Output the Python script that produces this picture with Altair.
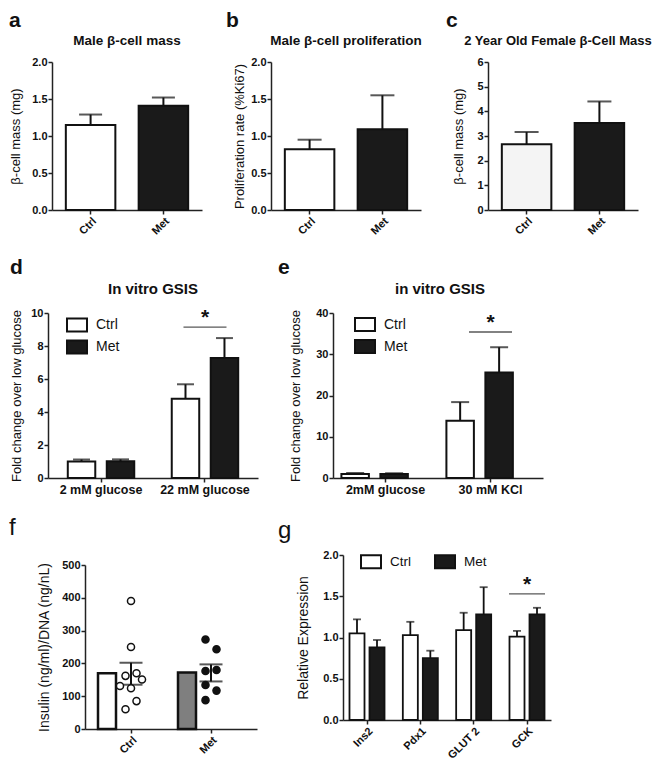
import altair as alt
import pandas as pd

FONT = "Liberation Sans"
INK = "#111111"
DARK = "#1a1a1a"
RECT = "M-1,-0.65H1V0.65H-1Z"

# ---------------- data ----------------
abc_groups = ["Ctrl", "Met"]
a_mean = [1.15, 1.41]
a_upper = [1.29, 1.52]
b_mean = [0.82, 1.09]
b_upper = [0.95, 1.55]
c_mean = [2.67, 3.53]
c_upper = [3.16, 4.40]

series = ["Ctrl", "Met"]
d_conds = ["2 mM glucose", "22 mM glucose"]
d_ctrl_mean = [1.00, 4.80]
d_ctrl_upper = [1.12, 5.68]
d_met_mean = [1.02, 7.28]
d_met_upper = [1.13, 8.48]
d_sig_cond = ["22 mM glucose"]
d_sig_y = [9.15]

e_conds = ["2mM glucose", "30 mM KCl"]
e_ctrl_mean = [1.00, 13.9]
e_ctrl_upper = [1.20, 18.4]
e_met_mean = [0.95, 25.6]
e_met_upper = [1.15, 31.7]
e_sig_cond = ["30 mM KCl"]
e_sig_y = [35.4]

f_groups = ["Ctrl", "Met"]
f_mean = [170, 172]
f_sem_low = [135, 145]
f_sem_high = [202, 197]
f_ctrl_points = [390, 250, 162, 170, 151, 131, 124, 85, 60]
f_ctrl_column = [0, 0, -1, 1, 2, -2, 0, 1, -1]
f_met_points = [273, 243, 177, 180, 134, 117, 88]
f_met_column = [-1, 1, -1, 1, -1, 1, -1]

g_genes = ["Ins2", "Pdx1", "GLUT 2", "GCK"]
g_ctrl_mean = [1.05, 1.03, 1.09, 1.01]
g_ctrl_upper = [1.22, 1.19, 1.30, 1.08]
g_met_mean = [0.88, 0.75, 1.28, 1.28]
g_met_upper = [0.97, 0.84, 1.61, 1.36]
g_sig_gene = ["GCK"]
g_sig_y = [1.53]


# ---------------- helpers ----------------
def label(text, x, y, size, weight="bold", align="left"):
    return alt.Chart(pd.DataFrame({"t": [text]})).mark_text(
        font=FONT, fontSize=size, fontWeight=weight, align=align,
        baseline="alphabetic", color=INK
    ).encode(text="t:N", x=alt.value(x), y=alt.value(y))


def spacer():
    return alt.Chart(pd.DataFrame({"v": [0]})).mark_rule(
        strokeOpacity=0, strokeWidth=0
    ).encode(x=alt.value(0), x2=alt.value(1), y=alt.value(0)).properties(width=1, height=1)


def yaxis(title, values, fmt, tx, ty, tsize=13):
    return alt.Axis(title=title, values=values, format=fmt, titleX=tx, titleY=ty,
                    titleAngle=270, titleAlign="center", titleBaseline="alphabetic",
                    titleFontSize=tsize)


def rot_axis(size):
    return alt.Axis(title=None, labelAngle=315, labelAlign="right", labelBaseline="top",
                    labelFontSize=size, labelPadding=1)


flat_axis = alt.Axis(title=None, labelAngle=0, labelAlign="center", labelBaseline="top",
                     labelFontSize=12.5, labelPadding=1)


def simple_panel(letter, lx, title, tdx, tsize, ytitle, ytx, mean, upper, fills, domain,
                 values, fmt, cap):
    W, H = 150, 148
    df = pd.DataFrame({"group": abc_groups, "mean": mean, "upper": upper})
    x = alt.X("group:N", sort=abc_groups,
              scale=alt.Scale(paddingInner=0.32, paddingOuter=0.19), axis=rot_axis(11))
    ysc = alt.Scale(domain=domain, nice=False)
    ax = yaxis(ytitle, values, fmt, ytx, H / 2)
    base = alt.Chart(df)
    bars = base.mark_bar(stroke=INK, strokeWidth=2).encode(
        x=x, y=alt.Y("mean:Q", scale=ysc, axis=ax),
        fill=alt.Fill("group:N", scale=alt.Scale(domain=abc_groups, range=fills), legend=None))
    err = base.mark_rule(color=INK, strokeWidth=2).encode(
        x=x, y=alt.Y("mean:Q", scale=ysc, axis=ax), y2="upper:Q")
    caps = base.mark_tick(orient="horizontal", color=INK, thickness=2, size=cap).encode(
        x=x, y=alt.Y("upper:Q", scale=ysc, axis=ax))
    return alt.layer(
        bars, err, caps,
        label(letter, lx, -35, 21),
        label(title, W / 2 + tdx, -17, tsize, align="center"),
    ).properties(width=W, height=H)


def grouped_layers(cats, cm, cu, mm, mu, H, xsc, xosc, xaxis, domain, values, fmt,
                   ytitle, ytx, ytsize, cap, lw, legend, sig_cat, sig_y, sig_len):
    n = len(cats)
    df = pd.DataFrame({"cond": cats + cats, "series": ["Ctrl"] * n + ["Met"] * n,
                       "mean": cm + mm, "upper": cu + mu})
    x = alt.X("cond:N", sort=cats, scale=xsc, axis=xaxis)
    xo = alt.XOffset("series:N", sort=series, scale=xosc)
    ysc = alt.Scale(domain=domain, nice=False)
    ax = yaxis(ytitle, values, fmt, ytx, H / 2, ytsize)
    base = alt.Chart(df)
    bars = base.mark_bar(stroke=INK, strokeWidth=lw).encode(
        x=x, xOffset=xo, y=alt.Y("mean:Q", scale=ysc, axis=ax),
        fill=alt.Fill("series:N", sort=series,
                      scale=alt.Scale(domain=series, range=["white", DARK]), legend=legend))
    err = base.mark_rule(color=INK, strokeWidth=lw).encode(
        x=x, xOffset=xo, y=alt.Y("mean:Q", scale=ysc, axis=ax), y2="upper:Q")
    caps = base.mark_tick(orient="horizontal", color=INK, thickness=lw, size=cap).encode(
        x=x, xOffset=xo, y=alt.Y("upper:Q", scale=ysc, axis=ax))
    sig = pd.DataFrame({"cond": sig_cat, "y": sig_y, "star": ["*"] * len(sig_cat)})
    line = alt.Chart(sig).mark_tick(orient="horizontal", color=INK, thickness=1.3,
                                    size=sig_len).encode(
        x=x, y=alt.Y("y:Q", scale=ysc, axis=ax))
    star = alt.Chart(sig).mark_text(font=FONT, fontSize=21, fontWeight="bold", color=INK,
                                    dy=-3, baseline="alphabetic").encode(
        x=x, y=alt.Y("y:Q", scale=ysc, axis=ax), text="star:N")
    return [bars, err, caps, line, star]


def legend_box(lx, ly, direction, size=14, colpad=0):
    return alt.Legend(title=None, orient="none", legendX=lx, legendY=ly,
                      direction=direction, symbolType=RECT, symbolSize=400,
                      symbolStrokeColor=INK, symbolStrokeWidth=2, labelFont=FONT,
                      labelFontSize=size, labelFontWeight="normal", labelColor=INK,
                      labelOffset=8, rowPadding=0, columnPadding=colpad, padding=0)


# ---------------- row 1 ----------------
pa = simple_panel("a", -43, "Male β-cell mass", 0, 13.5, "β-cell mass (mg)", -33,
                  a_mean, a_upper, ["white", DARK], [0, 2], [0, 0.5, 1, 1.5, 2], ".1f", 23)
pb = simple_panel("b", -45, "Male β-cell proliferation", 0, 13.5,
                  "Proliferation rate (%Ki67)", -28,
                  b_mean, b_upper, ["white", DARK], [0, 2], [0, 0.5, 1, 1.5, 2], ".1f", 24)
pc = simple_panel("c", -42, "2 Year Old Female β-Cell Mass", -5, 13, "β-cell mass (mg)", -26,
                  c_mean, c_upper, ["#f4f4f4", DARK], [0, 6], [0, 1, 2, 3, 4, 5, 6], "d", 24)

# ---------------- row 2 ----------------
Wd, Hd = 210, 165
d_layers = grouped_layers(
    d_conds, d_ctrl_mean, d_ctrl_upper, d_met_mean, d_met_upper, Hd,
    alt.Scale(paddingInner=0.3, paddingOuter=0.16),
    alt.Scale(paddingInner=0.295, paddingOuter=0.081),
    flat_axis, [0, 10], [0, 2, 4, 6, 8, 10], "d",
    "Fold change over low glucose", -28, 13, 17, 2,
    legend_box(18, 1, "vertical"), d_sig_cond, d_sig_y, 43)
pdd = alt.layer(*d_layers, label("d", -38, -39, 21),
                label("In vitro GSIS", Wd / 2, -19, 15, align="center")
                ).properties(width=Wd, height=Hd)

We, He = 210, 165
e_layers = grouped_layers(
    e_conds, e_ctrl_mean, e_ctrl_upper, e_met_mean, e_met_upper, He,
    alt.Scale(paddingInner=0.1, paddingOuter=0.05),
    alt.Scale(paddingInner=0.205, paddingOuter=0.176),
    flat_axis, [0, 40], [0, 10, 20, 30, 40], "d",
    "Fold change over low glucose", -34, 13, 18, 2,
    legend_box(21, 0.5, "vertical"), e_sig_cond, e_sig_y, 43)
pe = alt.layer(*e_layers, label("e", -55, -39, 21),
               label("in vitro GSIS", We / 2 + 2, -19, 15, align="center")
               ).properties(width=We, height=He)

# ---------------- row 3 ----------------
Wf, Hf, f_top = 172, 174, 10
f_pi, f_po = 0.175, 0.1625
f_bw = Wf / (2 - f_pi + 2 * f_po) * (1 - f_pi)
fb = pd.DataFrame({"group": f_groups, "mean": f_mean, "lo": f_sem_low, "hi": f_sem_high})
fp = pd.DataFrame({
    "group": ["Ctrl"] * len(f_ctrl_points) + ["Met"] * len(f_met_points),
    "value": f_ctrl_points + f_met_points,
    "column": f_ctrl_column + f_met_column,
})
fx = alt.X("group:N", sort=f_groups, scale=alt.Scale(paddingInner=f_pi, paddingOuter=f_po),
           axis=rot_axis(11))
fysc = alt.Scale(domain=[0, 500], nice=False, range=[Hf, f_top])
fax = yaxis("Insulin (ng/ml)/DNA (ng/nL)", [0, 100, 200, 300, 400, 500], "d", -37,
            (Hf + f_top) / 2, 14)
f_bars = alt.Chart(fb).mark_bar(stroke=INK, strokeWidth=2.5).encode(
    x=fx, y=alt.Y("mean:Q", scale=fysc, axis=fax),
    fill=alt.Fill("group:N", scale=alt.Scale(domain=f_groups, range=["white", "#7f7f7f"]),
                  legend=None))
f_pts = alt.Chart(fp).mark_point(shape="circle", filled=True, size=50, stroke=INK,
                                 strokeWidth=1.5, opacity=1).encode(
    x=fx,
    xOffset=alt.XOffset("column:Q", scale=alt.Scale(domain=[-6, 6], range=[0, f_bw])),
    y=alt.Y("value:Q", scale=fysc, axis=fax),
    fill=alt.Fill("group:N", scale=alt.Scale(domain=f_groups, range=["white", INK]),
                  legend=None))
f_err = alt.Chart(fb).mark_rule(color=INK, strokeWidth=2).encode(
    x=fx, y=alt.Y("lo:Q", scale=fysc, axis=fax), y2="hi:Q")
f_cap_hi = alt.Chart(fb).mark_tick(orient="horizontal", color=INK, thickness=2, size=23).encode(
    x=fx, y=alt.Y("hi:Q", scale=fysc, axis=fax))
f_cap_lo = alt.Chart(fb).mark_tick(orient="horizontal", color=INK, thickness=2, size=23).encode(
    x=fx, y=alt.Y("lo:Q", scale=fysc, axis=fax))
pf = alt.layer(f_bars, f_err, f_cap_hi, f_cap_lo, f_pts,
               label("f", -76, -20, 24, weight="normal")
               ).resolve_scale(fill="independent").properties(width=Wf, height=Hf)

Wg, Hg = 208, 165
g_layers = grouped_layers(
    g_genes, g_ctrl_mean, g_ctrl_upper, g_met_mean, g_met_upper, Hg,
    alt.Scale(paddingInner=0.3, paddingOuter=0.1),
    alt.Scale(paddingInner=0.25, paddingOuter=0.058),
    rot_axis(11), [0, 2], [0, 0.5, 1, 1.5, 2], ".1f",
    "Relative Expression", -36, 14, 8, 1.8,
    legend_box(17, -4.5, "horizontal", 13.5, 20), g_sig_gene, g_sig_y, 36)
pg = alt.layer(*g_layers, label("g", -65, -17, 24, weight="normal")
               ).properties(width=Wg, height=Hg)

# ---------------- layout ----------------
row1 = alt.hconcat(
    spacer(), alt.hconcat(pa, pb, pc, spacing=24).resolve_scale(fill="independent"),
    spacing=0).resolve_scale(fill="independent")
row2 = alt.hconcat(
    spacer(), alt.hconcat(pdd, pe, spacing=20).resolve_scale(fill="independent"),
    spacing=0).resolve_scale(fill="independent")
row3 = alt.hconcat(
    spacer(), alt.hconcat(pf, pg, spacing=21).resolve_scale(fill="independent"),
    spacing=0).resolve_scale(fill="independent")

chart = alt.vconcat(row1, row2, row3, spacing=20).resolve_scale(
    fill="independent"
).properties(
    padding={"top": 2, "left": 0, "right": 0, "bottom": 0}
).configure_view(
    stroke=None
).configure_axis(
    domainColor="#222222", domainWidth=1.5, tickColor="#222222", tickWidth=1.5,
    tickSize=4, labelFont=FONT, labelFontWeight="bold", labelFontSize=11,
    labelColor=INK, labelPadding=1, titleFont=FONT, titleFontWeight="normal",
    titleFontSize=13, titleColor=INK, grid=False
)

chart.save("out.html", embed_options={"renderer": "svg", "actions": False})
